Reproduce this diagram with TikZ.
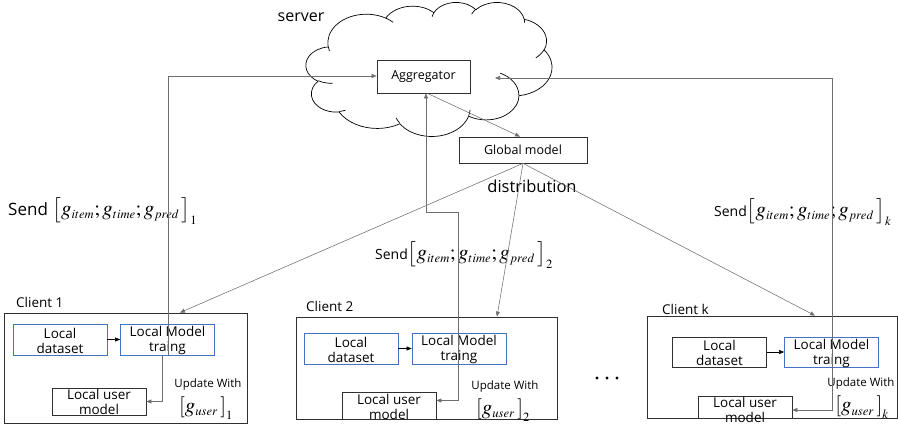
\documentclass[tikz,border=0pt]{standalone}
\usepackage{mathptmx}
\usepackage[no-math]{fontspec}
\setmainfont{Open Sans}
\usetikzlibrary{arrows.meta}

\definecolor{boxline}{HTML}{303030}
\definecolor{blueline}{HTML}{4472C4}
\definecolor{wire}{HTML}{6E6E6E}

% gradient vectors sent to the server and the user update
\newcommand{\sendvec}[1]{{\fontsize{21}{15}\selectfont$\left[\vrule height 13pt depth 8pt width 0pt
  g_{\scriptscriptstyle item};g_{\scriptscriptstyle time};g_{\scriptscriptstyle pred}\,\right]_{\scriptscriptstyle #1}$}}
\newcommand{\userupd}[1]{{\fontsize{21}{15}\selectfont$\left[\vrule height 10pt depth 6pt width 0pt
  g_{\scriptscriptstyle user}\,\right]_{\scriptscriptstyle #1}$}}

\tikzset{
  fsize/.style={font=\fontsize{#1}{15}\selectfont},
  client/.style={draw=boxline, line width=0.8pt, inner sep=0pt},
  bluebox/.style={draw=blueline, line width=0.7pt, inner sep=0pt, minimum width=94pt, minimum height=31pt},
  blackbox/.style={draw=boxline, line width=0.7pt, inner sep=0pt, minimum width=94pt, minimum height=30pt},
  tag/.style={fsize=13.5, inner sep=0pt, anchor=west},
  wirepath/.style={draw=wire, line width=0.55pt},
  cloudline/.style={draw=black, line width=0.7pt, line join=round},
  tip/.style={-{Triangle[length=5pt,width=4pt]}},
}

\begin{document}
\begin{tikzpicture}[x=1pt,y=-1pt]
\useasboundingbox (0,0) rectangle (898,430);

% server cloud: outline of eleven elliptic puffs plus the inner creases
\begin{scope}[shift={(306,2)}, x=0.56944pt, y=-0.31019pt]
  \coordinate (cp) at (39.00,143.70);
  \foreach \wr/\hr/\st/\sw in {
      67.53/91.90/-190.4875/123.7805, 53.33/72.67/-144.1024/89.9452,
      43.65/59.45/-145.8079/99.7230,  48.57/65.95/-130.9861/117.2417,
      53.33/72.73/-78.7089/109.0269,  67.75/92.20/-46.2673/130.2690,
      57.85/78.67/0.6250/114.0333,    67.52/92.15/22.4516/115.1726,
      77.20/105.43/66.2426/75.7110,   43.60/59.18/-274.9421/146.7356,
      43.45/59.45/-246.8285/152.5189} {
    \pgfmathsetmacro\ts{atan2(\wr*sin(\st),\hr*cos(\st))}
    \pgfmathsetmacro\te{atan2(\wr*sin(\st+\sw),\hr*cos(\st+\sw))}
    \pgfmathsetmacro\dt{mod(\te-\ts+720,360)}
    \draw[cloudline] (cp) arc[start angle=\ts, delta angle=\dt, x radius=\wr, y radius=\hr] coordinate (cp);
  }
  \foreach \px/\py/\wr/\hr/\st/\sw in {
      46.93/261.77/43.45/59.45/86.7420/26.4295,
      69.28/348.99/43.60/59.18/73.6105/11.4475,
      164.78/390.90/67.52/92.15/137.6242/14.0811,
      288.27/347.51/67.52/92.15/6.4533/15.9984,
      341.29/229.54/57.85/78.67/-70.2924/70.9174,
      417.98/153.54/53.33/72.73/30.3180/27.7515,
      383.24/54.26/48.57/65.95/-13.7443/14.8589,
      290.78/39.52/48.57/65.95/-149.1815/18.1954,
      221.41/47.20/43.65/59.45/-163.4943/17.6864,
      140.00/51.92/67.53/91.90/-66.7070/12.3194,
      41.27/157.89/67.53/91.90/157.6544/11.8582} {
    \pgfmathsetmacro\ts{atan2(\wr*sin(\st),\hr*cos(\st))}
    \pgfmathsetmacro\te{atan2(\wr*sin(\st+\sw),\hr*cos(\st+\sw))}
    \pgfmathsetmacro\dt{mod(\te-\ts+720,360)}
    \draw[cloudline] (\px,\py) arc[start angle=\ts, delta angle=\dt, x radius=\wr, y radius=\hr];
  }
\end{scope}

\node[fsize=16, inner sep=0pt] (srvlbl) at (301,17) {server};
\node[draw=boxline, line width=0.8pt, fill=white, minimum width=93pt, minimum height=33pt,
      inner sep=0pt, fsize=12.5] (agg) at (423.5,76.5) {Aggregator};
\node[draw=boxline, line width=0.8pt, fill=white, minimum width=128pt, minimum height=26pt,
      inner sep=0pt, fsize=12.5] (glob) at (523,150) {Global model};
\node[fsize=16.5, inner sep=0pt] (distr) at (532,186) {distribution};

% client 1
\node[client, minimum width=243pt, minimum height=110pt] (cl1) at (125.5,368) {};
\node[tag] (cl1lbl) at (16,302) {Client 1};
\node[bluebox, label={[fsize=13.5, align=center, inner sep=0pt, yshift=-1pt]center:Local\\dataset}] (ld1) at (60,339.5) {};
\node[bluebox, label={[fsize=13.5, align=center, inner sep=0pt, yshift=-1pt]center:Local Model\\traing}] (lmt1) at (167.5,339.5) {};
\node[blackbox, minimum height=27pt, label={[fsize=13.5, align=center, inner sep=0pt, yshift=0pt]center:Local user\\model}] (lum1) at (99,401.5) {};
\node[fsize=11.5, inner sep=0pt] (up1) at (208,385) {Update With};
\node[inner sep=0pt] (gu1) at (206,408) {\userupd{1}};
\node[fsize=17, inner sep=0pt, anchor=west] (snd1) at (8,211) {Send \sendvec{1}};

% client 2
\node[client, minimum width=261pt, minimum height=102pt] (cl2) at (426.5,368) {};
\node[tag] (cl2lbl) at (306,306) {Client 2};
\node[bluebox, label={[fsize=13.5, align=center, inner sep=0pt, yshift=-1pt]center:Local\\dataset}] (ld2) at (351,348.5) {};
\node[bluebox, label={[fsize=13.5, align=center, inner sep=0pt, yshift=-1pt]center:Local Model\\traing}] (lmt2) at (459,348.5) {};
\node[blackbox, minimum height=27pt, label={[fsize=13.5, align=center, inner sep=0pt, yshift=-1pt]center:Local user\\model}] (lum2) at (389,405.5) {};
\node[fsize=11.5, inner sep=0pt] (up2) at (505,387) {Update With};
\node[inner sep=0pt] (gu2) at (503,410) {\userupd{2}};
\node[fsize=14, inner sep=0pt, anchor=west] (snd2) at (375,255) {Send\sendvec{2}};

% client k
\node[client, minimum width=250pt, minimum height=102pt] (clk) at (772,367) {};
\node[tag] (clklbl) at (662,309) {Client k};
\node[blackbox, label={[fsize=13.5, align=center, inner sep=0pt, yshift=-1pt]center:Local\\dataset}] (ldk) at (719.5,352) {};
\node[bluebox, minimum height=30pt, label={[fsize=13.5, align=center, inner sep=0pt, yshift=-1pt]center:Local Model\\traing}] (lmtk) at (831.5,352) {};
\node[blackbox, minimum height=22pt, label={[fsize=13.5, align=center, inner sep=0pt, yshift=-3pt]center:Local user\\model}] (lumk) at (745,407) {};
\node[fsize=11.5, inner sep=0pt] (upk) at (861,384) {Update With};
\node[inner sep=0pt] (guk) at (862,407.5) {\userupd{k}};
\node[fsize=14, inner sep=0pt, anchor=west] (sndk) at (714,212) {Send\sendvec{k}};

% ellipsis between clients
\foreach \dx [count=\i] in {597,607,617}
  \fill (\dx,378) circle (1.6pt) coordinate (dot\i);

% routing points
\coordinate (c1up) at (168,76);
\coordinate (c2bend) at (458,212);
\coordinate (ckup) at (832,78);
\coordinate (cktip) at (495,78);

% local flows
\draw[wirepath, draw=black, tip] (ld1.east) -- (lmt1.west);
\draw[wirepath, draw=black, tip] (ld2.east) -- (lmt2.west);
\draw[wirepath, draw=black, tip] (ldk.east) -- (lmtk.west);

% uploads to the aggregator
\draw[wirepath, tip] (lmt1.south -| c1up) -- (c1up) -- (agg.west |- c1up);
\draw[wirepath, tip] (lmt2.south -| c2bend) -- (c2bend) -| ([xshift=2.5pt]agg.south);
\draw[wirepath, tip] (lmtk.south -| ckup) -- (ckup) -- (cktip);

% updates of the local user models
\draw[wirepath, tip] ([xshift=-6pt]lmt1.south -| c1up) |- (lum1.east);
\draw[wirepath, tip] (lmt2.south -| c2bend) |- ([yshift=5pt]lum2.east);
\draw[wirepath, tip] (lmtk.south -| ckup) |- ([yshift=-3pt]lumk.east);

% aggregation and distribution
\draw[wirepath, tip] ([xshift=4pt]agg.south) -- ([xshift=-3pt]glob.north);
\draw[wirepath, tip] (glob.south) -- ([xshift=54.5pt]cl1.north);
\draw[wirepath, tip] (glob.south) -- ([xshift=70.5pt]cl2.north);
\draw[wirepath, tip] (glob.south) -- ([xshift=43pt]clk.north);
\end{tikzpicture}
\end{document}
